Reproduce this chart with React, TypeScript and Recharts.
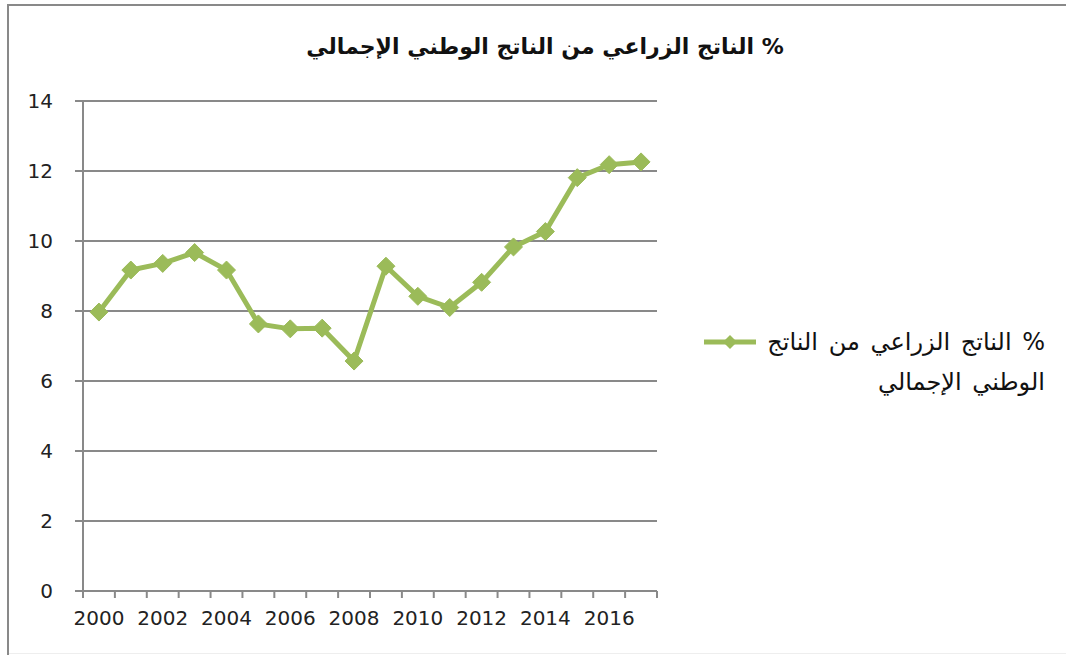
import React from "react";
import { LineChart, Line, XAxis, YAxis, CartesianGrid, Legend } from "recharts";

const years = [
  2000, 2001, 2002, 2003, 2004, 2005, 2006, 2007, 2008, 2009, 2010, 2011,
  2012, 2013, 2014, 2015, 2016, 2017,
];
const agriShare = [
  7.97, 9.17, 9.36, 9.67, 9.17, 7.63, 7.49, 7.51, 6.57, 9.28, 8.42, 8.1,
  8.82, 9.83, 10.27, 11.81, 12.18, 12.26,
];
const yTicks = [0, 2, 4, 6, 8, 10, 12, 14];
const xLabelYears = [2000, 2002, 2004, 2006, 2008, 2010, 2012, 2014, 2016];
// tick marks sit between the years, like Excel's "between tick marks"
const xMarkTicks = [
  1999.5, 2000.5, 2001.5, 2002.5, 2003.5, 2004.5, 2005.5, 2006.5, 2007.5,
  2008.5, 2009.5, 2010.5, 2011.5, 2012.5, 2013.5, 2014.5, 2015.5, 2016.5,
  2017.5,
];

const title = "% الناتج الزراعي من الناتج الوطني الإجمالي";
const legendLine1 = "% الناتج الزراعي من الناتج";
const legendLine2 = "الوطني الإجمالي";

const data = years.map((year, i) => ({ year, value: agriShare[i] }));

const GREEN = "#9BBB59";
const GRAY = "#898989";
const FONT = "'DejaVu Sans', sans-serif";

const Diamond = (props: any) => {
  const { cx, cy } = props;
  if (cx == null || cy == null) return null;
  const r = 9;
  return (
    <path
      d={`M${cx},${cy - r} L${cx + r},${cy} L${cx},${cy + r} L${cx - r},${cy} Z`}
      fill={GREEN}
      stroke={GREEN}
      strokeWidth={1}
    />
  );
};

// label drawn half a category to the right of the boundary tick
const YearTick = (props: any) => {
  const { x, y, payload, width } = props;
  const year = payload.value + 0.5;
  if (!xLabelYears.includes(year)) return null;
  const half = width / (xMarkTicks.length - 1) / 2;
  return (
    <text
      x={x + half}
      y={y}
      dy="0.71em"
      textAnchor="middle"
      fill="#222"
      fontSize={20}
      fontFamily={FONT}
    >
      {year}
    </text>
  );
};

const LegendBox = () => (
  <div
    style={{
      width: 355,
      fontFamily: FONT,
      fontSize: 24,
      wordSpacing: 3,
      color: "#111",
      whiteSpace: "nowrap",
    }}
  >
    <div
      style={{
        display: "flex",
        justifyContent: "flex-end",
        alignItems: "center",
        height: 40,
      }}
    >
      <svg width={56} height={20} style={{ marginRight: 9, flexShrink: 0 }}>
        <line x1={2} y1={10} x2={54} y2={10} stroke={GREEN} strokeWidth={5} />
        <path d="M28,3 L35,10 L28,17 L21,10 Z" fill={GREEN} />
      </svg>
      <span style={{ direction: "rtl" }}>{legendLine1}</span>
    </div>
    <div style={{ textAlign: "right", direction: "rtl", height: 40, lineHeight: "40px" }}>
      {legendLine2}
    </div>
  </div>
);

const App = () => (
  <div
    style={{
      position: "absolute",
      left: 0,
      top: 0,
      width: 1066,
      height: 655,
      background: "#fff",
      overflow: "hidden",
    }}
  >
    <div style={{ position: "absolute", left: 7, top: 4, width: 1059, height: 2, background: GRAY }} />
    <div style={{ position: "absolute", left: 7, top: 4, width: 2, height: 651, background: GRAY }} />
    <div style={{ position: "absolute", left: 9, top: 653, width: 1057, height: 1, background: "#eee" }} />
    <div
      style={{
        position: "absolute",
        left: 0,
        width: 1090,
        top: 34,
        textAlign: "center",
        fontFamily: FONT,
        fontWeight: "bold",
        fontSize: 22,
        direction: "rtl",
        color: "#111",
      }}
    >
      {title}
    </div>
    <LineChart
      width={1066}
      height={655}
      data={data}
      margin={{ top: 101, right: 54, bottom: 16, left: 0 }}
    >
      <CartesianGrid vertical={false} stroke={GRAY} strokeWidth={2} strokeDasharray="" />
      <XAxis
        type="number"
        dataKey="year"
        domain={[1999.5, 2017.5]}
        ticks={xMarkTicks}
        interval={0}
        tickSize={7}
        tickMargin={13}
        height={48}
        axisLine={{ stroke: GRAY, strokeWidth: 2 }}
        tickLine={{ stroke: GRAY, strokeWidth: 2 }}
        tick={<YearTick />}
      />
      <YAxis
        domain={[0, 14]}
        ticks={yTicks}
        interval={0}
        width={83}
        tickSize={8}
        tickMargin={22}
        axisLine={{ stroke: GRAY, strokeWidth: 2 }}
        tickLine={{ stroke: GRAY, strokeWidth: 2 }}
        tick={{ fill: "#222", fontSize: 20, fontFamily: FONT }}
      />
      <Legend
        layout="vertical"
        align="right"
        verticalAlign="middle"
        width={355}
        wrapperStyle={{ left: 690, top: 322, right: "auto" }}
        content={() => <LegendBox />}
      />
      <Line
        type="linear"
        dataKey="value"
        stroke={GREEN}
        strokeWidth={5}
        dot={<Diamond />}
        activeDot={false}
        isAnimationActive={false}
      />
    </LineChart>
  </div>
);

export default App;
